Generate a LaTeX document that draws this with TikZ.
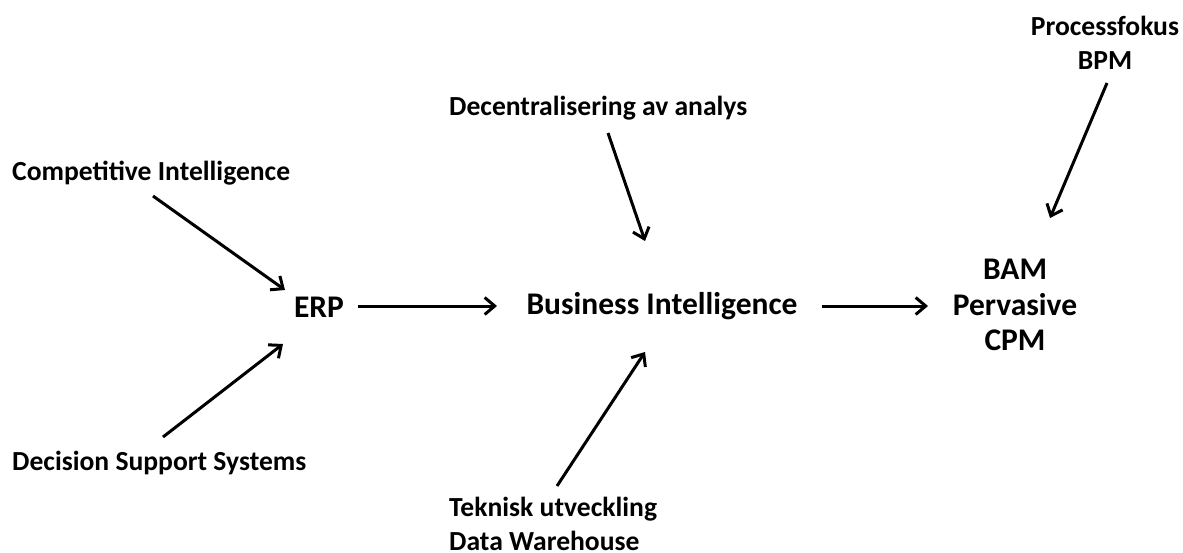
\documentclass[tikz,border=0pt]{standalone}
\usepackage{fontspec}
\setmainfont{Carlito}
\usetikzlibrary{arrows.meta}
\begin{document}
\begin{tikzpicture}[x=1pt,y=-1pt,
  lbl/.style={font=\bfseries\fontsize{27.6}{34}\selectfont, inner sep=0pt, align=center},
  big/.style={font=\bfseries\fontsize{31.5}{35.5}\selectfont, inner sep=0pt, align=center},
  flow/.style={line width=3pt, -{Straight Barb[length=10pt,width=17pt,line width=3pt]}}]
\useasboundingbox (0,0) rectangle (1183,552);

% labels
\node[lbl, anchor=west] (ci) at (12,173) {Competitive Intelligence};
\node[lbl, anchor=west] (dss) at (12,463) {Decision Support Systems};
\node[big] (erp) at (319,307) {ERP};
\node[big] (bi) at (662,306) {Business Intelligence};
\node[big] (bam) at (1015,305) {BAM\\Pervasive\\CPM};
\node[lbl, anchor=west] (dec) at (449,108) {Decentralisering av analys};
\node[lbl] (bpm) at (1105,43) {Processfokus\\BPM};
\node[lbl, anchor=west, align=left] (tek) at (449,524) {Teknisk utveckling\\Data Warehouse};

% connector end points
\coordinate (ci-out) at (153,196);
\coordinate (erp-in1) at (285,290);
\coordinate (dss-out) at (163,437);
\coordinate (erp-in2) at (283,344);
\coordinate (erp-out) at (358,306);
\coordinate (bi-in1) at (497,306);
\coordinate (bi-out) at (822,306);
\coordinate (bam-in1) at (928,306);
\coordinate (dec-out) at (608,133);
\coordinate (bi-in2) at (645,241);
\coordinate (tek-out) at (557,486);
\coordinate (bi-in3) at (645,352);
\coordinate (bpm-out) at (1107,83);
\coordinate (bam-in2) at (1050,218);

% connectors
\draw[flow] (ci-out) -- (erp-in1);
\draw[flow] (dss-out) -- (erp-in2);
\draw[flow] (erp-out) -- (bi-in1);
\draw[flow] (bi-out) -- (bam-in1);
\draw[flow] (dec-out) -- (bi-in2);
\draw[flow] (tek-out) -- (bi-in3);
\draw[flow] (bpm-out) -- (bam-in2);
\end{tikzpicture}
\end{document}
